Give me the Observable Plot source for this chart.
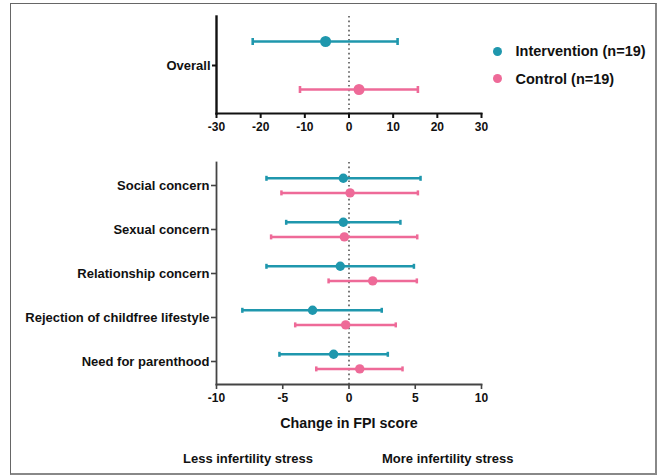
<!DOCTYPE html>
<html>
<head>
<meta charset="utf-8">
<script src="https://cdn.jsdelivr.net/npm/d3@7"></script>
<script src="https://cdn.jsdelivr.net/npm/@observablehq/plot@0.6"></script>
<style>
  html, body { margin: 0; padding: 0; background: #fff; }
  #wrap { position: relative; width: 659px; height: 475px; overflow: hidden; font-family: "Liberation Sans", Arial, sans-serif; font-weight: bold; color: #111; }
  #border { position: absolute; left: 10px; top: 3px; width: 644px; height: 469px; border: 1.5px solid #666; border-right-width: 2px; border-bottom-width: 2px; border-right-color: #888; border-bottom-color: #888; }
  .abs { position: absolute; }
  .txt { position: absolute; white-space: nowrap; line-height: 1; }
</style>
</head>
<body>
<div id="wrap">
  <div id="border"></div>
  <div id="top" class="abs" style="left:0;top:0"></div>
  <div id="bottom" class="abs" style="left:0;top:140px"></div>
  <div id="legend"></div>
  <div class="txt" id="xlabel" style="left:349px;top:423px;transform:translate(-50%,-50%);font-size:14.3px">Change in FPI score</div>
  <div class="txt" style="left:183px;top:458px;transform:translate(0,-50%);font-size:13px">Less infertility stress</div>
  <div class="txt" style="left:382px;top:458px;transform:translate(0,-50%);font-size:13px">More infertility stress</div>
</div>
<script>
// ---- data ----
const groups = ["Intervention (n=19)", "Control (n=19)"];
const colors = ["#1f97ad", "#ee6a98"];

const overallLabel = ["Overall"];
const overallIntervention = [-5.3];   // mean
const overallInterventionLow = [-21.8];
const overallInterventionHigh = [11.0];
const overallControl = [2.27];
const overallControlLow = [-11.1];
const overallControlHigh = [15.6];

const categories = ["Social concern", "Sexual concern", "Relationship concern", "Rejection of childfree lifestyle", "Need for parenthood"];
const intMean = [-0.43, -0.43, -0.66, -2.75, -1.16];
const intLow  = [-6.23, -4.74, -6.23, -8.05, -5.25];
const intHigh = [5.4, 3.88, 4.9, 2.47, 2.93];
const ctrlMean = [0.08, -0.35, 1.79, -0.25, 0.81];
const ctrlLow  = [-5.1, -5.88, -1.54, -4.06, -2.47];
const ctrlHigh = [5.2, 5.15, 5.12, 3.53, 4.04];

const topTicks = [-30, -20, -10, 0, 10, 20, 30];
const bottomTicks = [-10, -5, 0, 5, 10];

// ---- tables ----
function rows(cats, mean, low, high) {
  return cats.map((c, i) => ({cat: c, mean: mean[i], low: low[i], high: high[i]}));
}
const topInt = rows(overallLabel, overallIntervention, overallInterventionLow, overallInterventionHigh);
const topCtrl = rows(overallLabel, overallControl, overallControlLow, overallControlHigh);
const botInt = rows(categories, intMean, intLow, intHigh);
const botCtrl = rows(categories, ctrlMean, ctrlLow, ctrlHigh);

// vertical cap symbol
const cap = {
  draw(ctx, size) {
    const h = Math.sqrt(size / Math.PI);
    ctx.moveTo(0, -h);
    ctx.lineTo(0, h);
  }
};

function series(data, color, dy, r, capR, sw) {
  return [
    Plot.ruleY(data, {y: "cat", x1: "low", x2: "high", stroke: color, strokeWidth: sw, dy}),
    Plot.dot(data, {x: "low", y: "cat", symbol: cap, r: capR, stroke: color, strokeWidth: sw, fill: "none", dy}),
    Plot.dot(data, {x: "high", y: "cat", symbol: cap, r: capR, stroke: color, strokeWidth: sw, fill: "none", dy}),
    Plot.dot(data, {x: "mean", y: "cat", r, fill: color, stroke: "none", dy})
  ];
}

const fmt = d => `${d}`;

const common = {
  width: 659,
  marginLeft: 216,
  marginRight: 178,
  style: {fontFamily: "Liberation Sans, Arial, sans-serif", fontWeight: "bold", fontSize: "12px", color: "#111", background: "transparent", overflow: "visible"}
};

const topPlot = Plot.plot({
  ...common,
  height: 140,
  marginTop: 16,
  marginBottom: 27,
  x: {domain: [-30, 30], ticks: topTicks, label: null},
  y: {type: "point", domain: overallLabel, padding: 0.5, label: null},
  marks: [
    Plot.ruleX([0], {stroke: "#555", strokeWidth: 1.6, strokeDasharray: "1.6,3"}),
    ...series(topInt, colors[0], -24, 5.5, 3.5, 2.6),
    ...series(topCtrl, colors[1], 24, 5.5, 3.5, 2.6),
    Plot.frame({anchor: "left", stroke: "#111", strokeWidth: 2.4}),
    Plot.frame({anchor: "bottom", stroke: "#111", strokeWidth: 2}),
    Plot.axisX({ticks: topTicks, tickFormat: fmt, tickSize: 5, tickPadding: 4, stroke: "#111", strokeWidth: 2, fontSize: 12, label: null}),
    Plot.axisY({tickSize: 4, tickPadding: 2, stroke: "#111", strokeWidth: 2, fontSize: 13, label: null})
  ]
});
document.getElementById("top").appendChild(topPlot);

const bottomPlot = Plot.plot({
  ...common,
  height: 274,
  marginTop: 22,
  marginBottom: 30,
  x: {domain: [-10, 10], ticks: bottomTicks, label: null},
  y: {type: "point", domain: categories, padding: 0.5, label: null},
  marks: [
    Plot.ruleX([0], {stroke: "#555", strokeWidth: 1.6, strokeDasharray: "1.6,3"}),
    ...series(botInt, colors[0], -7.2, 4.7, 2.5, 2.5),
    ...series(botCtrl, colors[1], 7.4, 4.7, 2.5, 2.5),
    Plot.frame({anchor: "left", stroke: "#444", strokeWidth: 1.8}),
    Plot.frame({anchor: "bottom", stroke: "#444", strokeWidth: 1.8}),
    Plot.axisX({ticks: bottomTicks, tickFormat: fmt, tickSize: 5, tickPadding: 4, stroke: "#444", strokeWidth: 1.6, fontSize: 12, label: null}),
    Plot.axisY({tickSize: 5, tickPadding: 2, stroke: "#444", strokeWidth: 1.6, fontSize: 13, label: null})
  ]
});
document.getElementById("bottom").appendChild(bottomPlot);

// legend
const legend = document.getElementById("legend");
const legendY = [51, 78.5];
groups.forEach((g, i) => {
  const dot = document.createElement("div");
  dot.className = "abs";
  dot.style.cssText = `left:${497.7 - 4.5}px;top:${legendY[i] - 4.5}px;width:9px;height:9px;border-radius:50%;background:${colors[i]}`;
  legend.appendChild(dot);
  const t = document.createElement("div");
  t.className = "txt";
  t.style.cssText = `left:515.5px;top:${legendY[i]}px;transform:translate(0,-50%);font-size:14.5px`;
  t.textContent = g;
  legend.appendChild(t);
});
</script>
</body>
</html>
